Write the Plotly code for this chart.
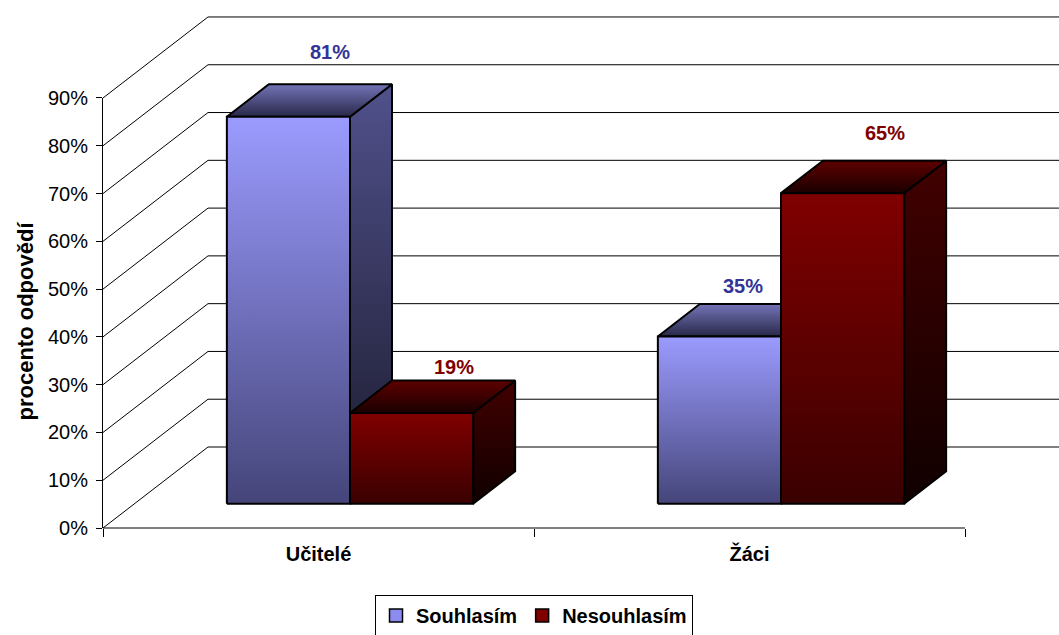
import plotly.graph_objects as go

# ---- data ----
categories = ["Učitelé", "Žáci"]
series_names = ["Souhlasím", "Nesouhlasím"]
souhlasim = [81, 35]
nesouhlasim = [19, 65]
y_ticks = [0, 10, 20, 30, 40, 50, 60, 70, 80, 90]
y_tick_labels = [f"{v}%" for v in y_ticks]

# ---- styling / geometry ----
FONT = "Arial, Liberation Sans, sans-serif"
W, H = 1059, 635
ML, MB = 103, 97
PX_X = 431.0          # px per category unit
PX_Y = 4.778          # px per percent
plot_w = W - ML
plot_h = H - MB
YMIN = -10 / PX_Y
YMAX = YMIN + plot_h / PX_Y
XMIN = -0.5
XMAX = XMIN + plot_w / PX_X
DX = 105 / PX_X       # depth offset (category units)
DY = 81 / PX_Y        # depth offset (percent units)
BW = 1 / 3.5          # bar width (gap width 150%)
F0, F1 = 0.3, 0.7     # bar depth range as fraction of depth

styles = {
    "Souhlasím": dict(front=[[0, "#45457a"], [1, "#9b9bff"]],
                      side=[[0, "#1a1a2c"], [1, "#51518c"]],
                      top=[[0, "#28284a"], [1, "#7474b8"]],
                      legend="#8c8cf0", label="#333399"),
    "Nesouhlasím": dict(front=[[0, "#3a0000"], [1, "#800000"]],
                        side=[[0, "#100000"], [1, "#420000"]],
                        top=[[0, "#1a0000"], [1, "#5e0000"]],
                        legend="#800000", label="#800000"),
}

fig = go.Figure()

# walls: gridlines on side wall and back wall, plus front floor edge
gx, gy = [], []
for v in y_ticks:
    gx += [XMIN, XMIN + DX, 1.5 + DX, None]
    gy += [v, v + DY, v + DY, None]
gx += [XMIN, 1.5, None]
gy += [0, 0, None]
fig.add_trace(go.Scatter(x=gx, y=gy, mode="lines", line=dict(color="black", width=1),
                         hoverinfo="skip", showlegend=False))


def face(xs, ys, cs):
    fig.add_trace(go.Scatter(
        x=xs + [xs[0]], y=ys + [ys[0]], mode="lines", fill="toself",
        fillgradient=dict(type="vertical", colorscale=cs),
        line=dict(color="black", width=2), hoverinfo="skip", showlegend=False))


all_vals = [souhlasim, nesouhlasim]
annotations = []
for ci, cat in enumerate(categories):
    for si, (name, vals) in enumerate(zip(series_names, all_vals)):
        v = vals[ci]
        st = styles[name]
        x0 = ci + F0 * DX - BW + si * BW
        x1 = x0 + BW
        yb = F0 * DY
        yt = v + F0 * DY
        d = (F1 - F0) * DX
        e = (F1 - F0) * DY
        face([x1, x1 + d, x1 + d, x1], [yb, yb + e, yt + e, yt], st["side"])
        face([x0, x1, x1 + d, x0 + d], [yt, yt, yt + e, yt + e], st["top"])
        face([x0, x1, x1, x0], [yb, yb, yt, yt], st["front"])
        # nudge a label left when the neighbouring bar to the right is taller
        nudge = -18 if (si + 1 < len(all_vals) and all_vals[si + 1][ci] > v) and v < 50 else 0
        annotations.append(dict(
            x=(x0 + x1) / 2 + d, y=yt + e, xref="x", yref="y", text=f"{v}%",
            showarrow=False, yanchor="middle", yshift=8 + 0.3 * v, xshift=nudge,
            font=dict(family=FONT, size=20, color=st["label"], weight="bold")))

# legend-only entries
for name in series_names:
    fig.add_trace(go.Scatter(
        x=[None], y=[None], mode="markers", name=name, xaxis="x", yaxis="y2",
        marker=dict(symbol="square", size=13, color=styles[name]["legend"],
                    line=dict(color="black", width=1.5))))

annotations.append(dict(
    x=(10 - ML) / plot_w, y=(plot_h - 321) / plot_h, xref="paper", yref="paper",
    text="procento odpovědí", textangle=-90, showarrow=False,
    font=dict(family=FONT, size=22, color="black", weight="bold")))

fig.update_layout(
    width=W, height=H, margin=dict(l=ML, r=0, t=0, b=MB, autoexpand=False),
    paper_bgcolor="white", plot_bgcolor="rgba(0,0,0,0)",
    font=dict(family=FONT, size=20, color="black"),
    xaxis=dict(range=[XMIN, XMAX], anchor="y2", showgrid=False, zeroline=False,
               showline=False, tickmode="array", tickvals=list(range(len(categories))),
               ticktext=categories, ticks="", ticklabelstandoff=12,
               tickfont=dict(family=FONT, size=20, color="black", weight="bold"),
               minor=dict(tickmode="array", tickvals=[-0.5, 0.5, 1.5], ticks="outside",
                          ticklen=8, tickcolor="black", tickwidth=1, showgrid=False)),
    yaxis=dict(range=[YMIN, YMAX], visible=False, domain=[0, 1]),
    yaxis2=dict(range=[0, 90], domain=[(0 - YMIN) / (YMAX - YMIN), (90 - YMIN) / (YMAX - YMIN)],
                anchor="x", showline=True, linecolor="black", linewidth=1,
                ticks="outside", ticklen=6, tickcolor="black", tickmode="array",
                tickvals=y_ticks, ticktext=y_tick_labels, showgrid=False, zeroline=False,
                ticklabelstandoff=4, tickfont=dict(family=FONT, size=20, color="black")),
    showlegend=True,
    legend=dict(orientation="h", x=(534 - ML) / plot_w, xanchor="center",
                y=-(595 - plot_h) / plot_h, yanchor="top", itemwidth=30,
                bordercolor="black", borderwidth=1, bgcolor="white",
                font=dict(family=FONT, size=20, color="black", weight="bold")),
    annotations=annotations,
)

fig.write_html("out.html")
